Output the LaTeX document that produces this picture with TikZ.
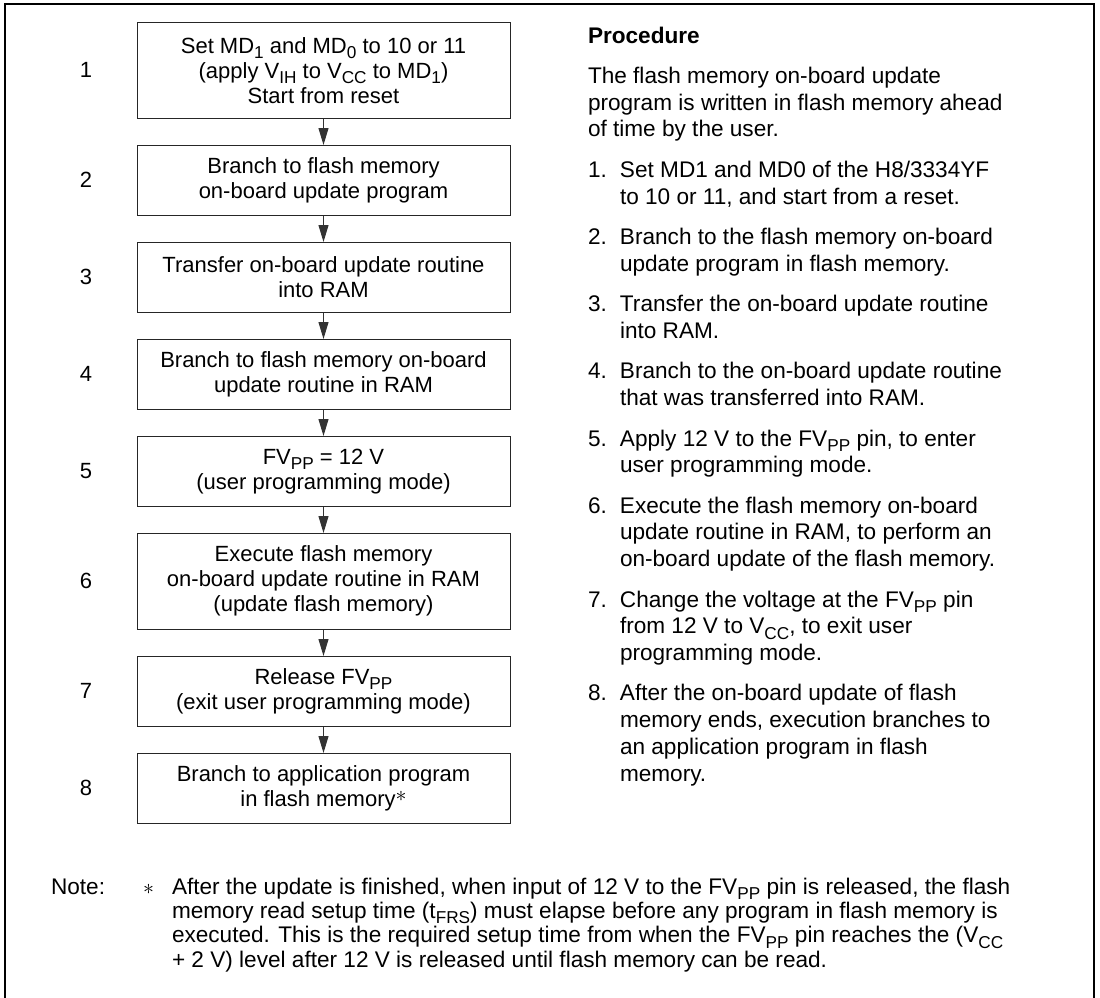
\documentclass[tikz,border=0pt]{standalone}
\usepackage{fontspec}
\setmainfont{Liberation Sans}
\usetikzlibrary{arrows.meta,positioning}

\newcommand{\subt}[1]{\raisebox{-0.45ex}{\fontsize{8.6}{8.6}\selectfont #1}}
\newcommand{\procitem}[2]{\begin{tabular}[t]{@{}l@{}l@{}}\makebox[16pt][l]{#1}&#2\end{tabular}}
\newcommand{\proctext}[1]{\begin{tabular}[t]{@{}l@{}}#1\end{tabular}}

\begin{document}
\begin{tikzpicture}[
    x=0.5pt, y=-0.5pt,
    node distance=13.25pt,
    stepbox/.style={draw=black!85, line width=0.5pt, align=center, minimum width=186.5pt, minimum height=34.75pt, inner sep=0pt, font=\fontsize{11}{12.5}\selectfont},
    tall/.style={minimum height=47.75pt},
    stepno/.style={inner sep=0pt, outer sep=0pt, font=\fontsize{11}{12.5}\selectfont},
    proc/.style={inner sep=0pt, outer sep=0pt, anchor=north west, font=\fontsize{11.3}{13.34}\selectfont},
    under/.style={below=6.91pt of #1, anchor=north west},
    note/.style={inner sep=0pt, outer sep=0pt, font=\fontsize{11.3}{12.2}\selectfont},
    arrow/.style={-{Triangle[length=8.5pt, width=5pt]}, line width=0.5pt, draw=black!80},
    frame/.style={line width=0.65pt}
]
\useasboundingbox (0,0) rectangle (1100,998);
\draw[frame] (5,998) |- (1094,4) -- (1094,998);

% flow chart
\node[stepbox, tall, anchor=north] (b1) at (323.5,22) {Set MD\subt{1} and MD\subt{0} to 10 or 11\\(apply V\subt{IH} to V\subt{CC} to MD\subt{1})\\Start from reset};
\node[stepbox, below=of b1] (b2) {Branch to flash memory\\on-board update program};
\node[stepbox, below=of b2] (b3) {Transfer on-board update routine\\into RAM};
\node[stepbox, below=of b3] (b4) {Branch to flash memory on-board\\update routine in RAM};
\node[stepbox, below=of b4] (b5) {FV\subt{PP} = 12 V\\(user programming mode)};
\node[stepbox, tall, below=of b5] (b6) {Execute flash memory\\on-board update routine in RAM\\(update flash memory)};
\node[stepbox, below=of b6] (b7) {Release FV\subt{PP}\\(exit user programming mode)};
\node[stepbox, below=of b7] (b8) {Branch to application program\\in flash memory\raisebox{0.45ex}{$\ast$}};

\foreach \i in {1,...,8}
    \node[stepno, left=22.2pt of b\i] (n\i) {\i};
\foreach \i/\j in {1/2,2/3,3/4,4/5,5/6,6/7,7/8}
    \draw[arrow] (b\i) -- (b\j);

% procedure text
\node[proc, anchor=base west] (head) at (588,43) {\proctext{\textbf{Procedure}}};
\node[proc, under=head.south west] (intro) {\proctext{The flash memory on-board update\\program is written in flash memory ahead\\of time by the user.}};
\node[proc, under=intro.south west] (p1) {\procitem{1.}{Set MD1 and MD0 of the H8/3334YF\\&to 10 or 11, and start from a reset.}};
\node[proc, under=p1.south west] (p2) {\procitem{2.}{Branch to the flash memory on-board\\&update program in flash memory.}};
\node[proc, under=p2.south west] (p3) {\procitem{3.}{Transfer the on-board update routine\\&into RAM.}};
\node[proc, under=p3.south west] (p4) {\procitem{4.}{Branch to the on-board update routine\\&that was transferred into RAM.}};
\node[proc, under=p4.south west] (p5) {\procitem{5.}{Apply 12 V to the FV\subt{PP} pin, to enter\\&user programming mode.}};
\node[proc, under=p5.south west] (p6) {\procitem{6.}{Execute the flash memory on-board\\&update routine in RAM, to perform an\\&on-board update of the flash memory.}};
\node[proc, under=p6.south west] (p7) {\procitem{7.}{Change the voltage at the FV\subt{PP} pin\\&from 12 V to V\subt{CC}, to exit user\\&programming mode.}};
\node[proc, under=p7.south west] (p8) {\procitem{8.}{After the on-board update of flash\\&memory ends, execution branches to\\&an application program in flash\\&memory.}};

% note
\node[note, anchor=base west] (notebody) at (172,894) {\proctext{After the update is finished, when input of 12 V to the FV\subt{PP} pin is released, the flash\\memory read setup time (t\subt{FRS}) must elapse before any program in flash memory is\\executed. This is the required setup time from when the FV\subt{PP} pin reaches the (V\subt{CC}\\+ 2 V) level after 12 V is released until flash memory can be read.}};
\node[note, base left=9pt of notebody] (star) {$\ast$};
\node[note, base left=19pt of star] (notelbl) {Note:};
\end{tikzpicture}
\end{document}
